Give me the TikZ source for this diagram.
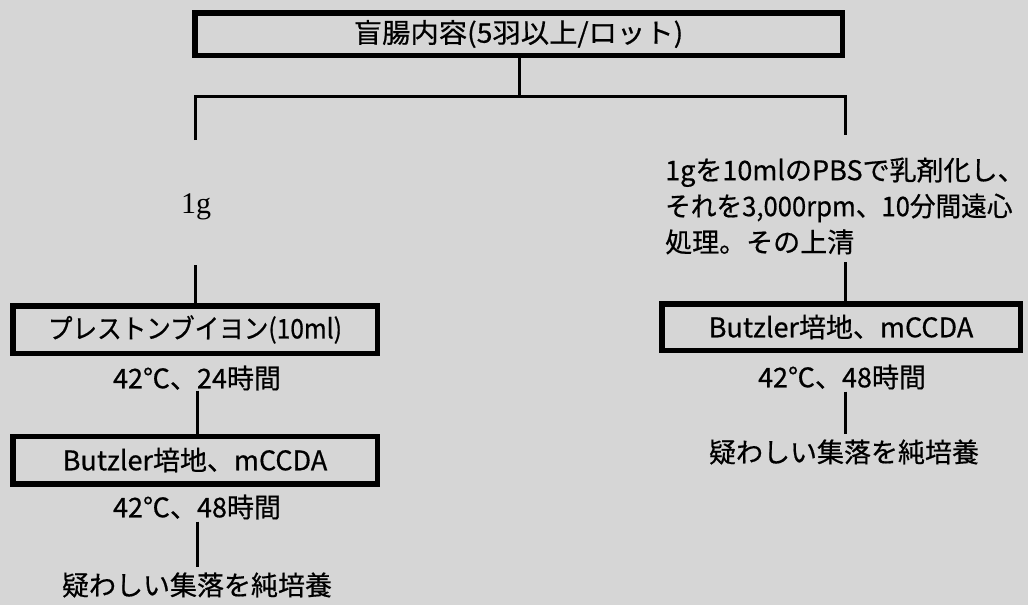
\documentclass[tikz,border=0pt]{standalone}
\usepackage{fontspec}
\setmainfont{Noto Sans CJK JP}[FakeBold=0.6]
\newfontfamily\condA{Noto Sans CJK JP}[FakeStretch=0.91,FakeBold=0.6]
\newfontfamily\condB{Noto Sans CJK JP}[FakeStretch=0.95,FakeBold=0.6]
\newfontfamily\wideA{Noto Sans CJK JP}[FakeStretch=1.05,FakeBold=0.6]
\newfontfamily\serifL{Liberation Serif}
\definecolor{bgc}{RGB}{214,214,214}
\begin{document}
\begin{tikzpicture}[x=1pt,y=-1pt,
  bigbox/.style={draw, line width=5.5pt, inner sep=0pt},
  lbl/.style={inner sep=0pt, font=\fontsize{27}{36}\selectfont},
  conn/.style={line width=3pt, line join=miter}]
\fill[bgc] (0,0) rectangle (1028,605);
\useasboundingbox (0,0) rectangle (1028,605);
% top box
\node[bigbox, lbl, minimum width=647.5pt, minimum height=42.5pt] (top) at (518.5,34) {\wideA 盲腸内容(5羽以上/ロット)};
\coordinate (split) at (519,96);
\coordinate (lsplit) at (195,96);
\coordinate (rsplit) at (845,96);
\coordinate (lend) at (195,140);
\coordinate (rend) at (845,135);
\draw[conn] (top.south -| split) -- (split);
\draw[conn] (lend) -- (lsplit) -- (rsplit) -- (rend);
% left branch
\node[lbl, font=\serifL\fontsize{30}{36}\selectfont] (g1) at (196,207) {1g};
\coordinate (lstart) at (195,265);
\node[bigbox, lbl, minimum width=364.5pt, minimum height=47.5pt] (bl1) at (195,329.5) {\condA プレストンブイヨン(10ml)};
\draw[conn] (lstart) -- (bl1.north);
\node[lbl] (t1) at (197,378) {42℃、24時間};
\node[bigbox, lbl, minimum width=364.5pt, minimum height=47.5pt] (bl2) at (195,460) {Butzler培地、mCCDA};
\draw[conn] (t1.south) -- (t1.south |- bl2.north);
\node[lbl] (t2) at (197,507) {42℃、48時間};
\node[lbl] (t3) at (197,585) {疑わしい集落を純培養};
\draw[conn, shorten <=2pt, shorten >=5pt] (t2.south) -- (t2.south |- t3.north);
% right branch
\node[lbl, align=left, anchor=west] (rt) at (665,206) {1gを10mlのPBSで乳剤化し、\\{\condB それを3,000rpm、10分間遠心}\\処理。その上清};
\coordinate (rstart) at (845,262);
\node[bigbox, lbl, minimum width=358.5pt, minimum height=46.5pt] (br) at (841,327) {Butzler培地、mCCDA};
\draw[conn] (rstart) -- (rstart |- br.north);
\node[lbl] (t4) at (842,377) {42℃、48時間};
\node[lbl] (t5) at (844,452) {疑わしい集落を純培養};
\draw[conn, shorten <=2pt, shorten >=5pt] (t4.south -| rstart) -- (rstart |- t5.north);
\end{tikzpicture}
\end{document}
